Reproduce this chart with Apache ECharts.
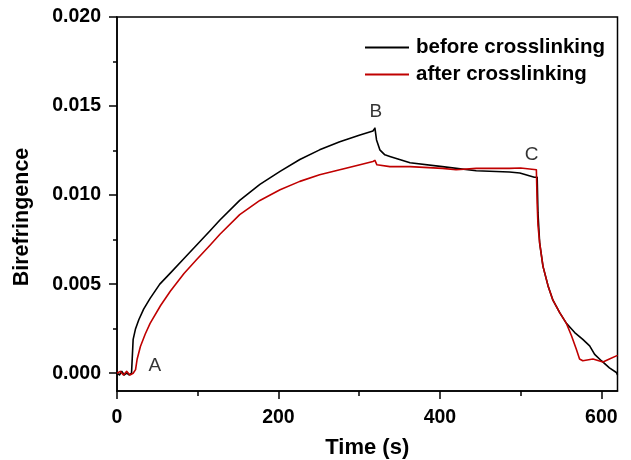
<!DOCTYPE html>
<html>
<head>
<meta charset="utf-8">
<script src="https://cdn.jsdelivr.net/npm/echarts@6/dist/echarts.min.js"></script>
<style>
  html, body { margin: 0; padding: 0; background: #fff; }
  #chart { width: 631px; height: 460px; }
</style>
</head>
<body>
<div id="chart"></div>
<script>
// Birefringence transients before / after crosslinking
const beforeTime = [0, 3, 6, 9, 12, 15, 18, 19.6, 20, 23, 27, 33, 41, 53, 66, 83, 99, 115, 127.5, 152, 177, 202, 226.5, 251, 276, 301, 317, 319.5, 321.5, 325.6, 331.8, 338, 363, 403, 445, 486, 499, 517, 520.5, 521.5, 523.6, 527.7, 534, 540, 548.4, 556.7, 567, 577, 585.5, 591.7, 600, 610, 618.6, 620];
const beforeValue = [0, -0.0001, 0.0001, -0.0001, 0, -0.0001, 0, 0, 0.0019, 0.0025, 0.0030, 0.0036, 0.0042, 0.0050, 0.00562, 0.00644, 0.00721, 0.00798, 0.0086, 0.0097, 0.0106, 0.01133, 0.0120, 0.01254, 0.0130, 0.01338, 0.0136, 0.01376, 0.0131, 0.01254, 0.01226, 0.01217, 0.01182, 0.0116, 0.01137, 0.0113, 0.01124, 0.0110, 0.0110, 0.0090, 0.0073, 0.0060, 0.0049, 0.0041, 0.0034, 0.0028, 0.00228, 0.0019, 0.00153, 0.00106, 0.0007, 0.0003, 0.00004, -0.0001];

const afterTime = [0, 4, 8, 12, 16, 20, 22, 23, 25, 29, 35, 41, 54, 66, 83, 99, 115.5, 127.5, 152, 177, 202, 226.5, 251, 276, 301, 317, 319.5, 322, 338, 363, 403, 420, 445, 486, 500, 519.5, 520.5, 521.5, 523.6, 527.7, 534, 540, 548.4, 556.7, 563, 569, 573, 577, 589.6, 602, 610, 620];
const afterValue = [0, 0.0001, -0.0001, 0.0001, -0.0001, 0, -0.0001, 0.0002, 0.0008, 0.0015, 0.0022, 0.0028, 0.0038, 0.0046, 0.0056, 0.0064, 0.0072, 0.0078, 0.0089, 0.0097, 0.0103, 0.01077, 0.01114, 0.01142, 0.0117, 0.01189, 0.01195, 0.0117, 0.0116, 0.0116, 0.0115, 0.01142, 0.0115, 0.0115, 0.01152, 0.01142, 0.0095, 0.0083, 0.0073, 0.0060, 0.0049, 0.0041, 0.0034, 0.0028, 0.0021, 0.00134, 0.0008, 0.0007, 0.0008, 0.00063, 0.0008, 0.001];

// Point labels A, B, C (time, birefringence)
const markText = ['A', 'B', 'C'];
const markTime = [47, 320.6, 513.7];
const markValue = [0.0004, 0.01468, 0.01225];

const xMajorTicks = [0, 200, 400, 600];
const xMinorTicks = [100, 300, 500];
const yMajorTicks = [0, 0.005, 0.010, 0.015, 0.020];
const yMinorTicks = [0.0025, 0.0075, 0.0125, 0.0175];

const seriesNames = ['before crosslinking', 'after crosslinking'];

const zip = (a, b) => a.map((v, i) => [v, b[i]]);
const FONT = '"Liberation Sans", Arial, Helvetica, sans-serif';
const X_MIN = 0, X_MAX = 620, Y_MIN = -0.001, Y_MAX = 0.020;

const chart = echarts.init(document.getElementById('chart'), null, { renderer: 'canvas' });

const minorAxisCommon = {
  axisLine: { show: false, onZero: false },
  axisLabel: { show: false },
  splitLine: { show: false }
};

chart.setOption({
  animation: false,
  backgroundColor: '#fff',
  grid: {
    left: 117, top: 17, right: 13.5, bottom: 69,
    outerBoundsMode: 'none', containLabel: false,
    show: true, borderColor: '#000', borderWidth: 1.5, backgroundColor: 'transparent'
  },
  legend: {
    data: seriesNames,
    orient: 'vertical',
    left: 365, top: 37, padding: 0,
    icon: 'rect', itemWidth: 44, itemHeight: 2, itemGap: 6,
    textStyle: { fontFamily: FONT, fontWeight: 'bold', fontSize: 20.5, lineHeight: 20, color: '#000', padding: [0, 0, 0, 2] }
  },
  xAxis: [{
    type: 'value', min: X_MIN, max: X_MAX,
    name: 'Time (s)', nameLocation: 'middle', nameGap: 46,
    nameTextStyle: { fontFamily: FONT, fontWeight: 'bold', fontSize: 22, color: '#000' },
    axisLine: { show: true, onZero: false, lineStyle: { color: '#000', width: 1.5 } },
    axisTick: { show: true, length: 8, customValues: xMajorTicks, lineStyle: { color: '#000', width: 1.5 } },
    axisLabel: { customValues: xMajorTicks, margin: 17, fontFamily: FONT, fontWeight: 'bold', fontSize: 19.5, color: '#000' },
    splitLine: { show: false }
  }, Object.assign({
    type: 'value', min: X_MIN, max: X_MAX, position: 'bottom',
    axisTick: { show: true, length: 5, customValues: xMinorTicks, lineStyle: { color: '#000', width: 1.5 } }
  }, minorAxisCommon)],
  yAxis: [{
    type: 'value', min: Y_MIN, max: Y_MAX,
    name: 'Birefringence', nameLocation: 'middle', nameGap: 84, nameRotate: 90,
    nameTextStyle: { fontFamily: FONT, fontWeight: 'bold', fontSize: 21.5, color: '#000', padding: [0, 26, 0, 0] },
    axisLine: { show: true, onZero: false, lineStyle: { color: '#000', width: 1.5 } },
    axisTick: { show: true, length: 8, customValues: yMajorTicks, lineStyle: { color: '#000', width: 1.5 } },
    axisLabel: {
      customValues: yMajorTicks, margin: 16, fontFamily: FONT, fontWeight: 'bold', fontSize: 19.5, color: '#000',
      formatter: v => v.toFixed(3)
    },
    splitLine: { show: false }
  }, Object.assign({
    type: 'value', min: Y_MIN, max: Y_MAX, position: 'left', offset: 0,
    axisTick: { show: true, length: 4, customValues: yMinorTicks, lineStyle: { color: '#000', width: 1.5 } }
  }, minorAxisCommon)],
  series: [{
    name: seriesNames[0], type: 'line', data: zip(beforeTime, beforeValue),
    showSymbol: false, symbol: 'none', smooth: false,
    lineStyle: { color: '#000000', width: 1.6, join: 'round' }, itemStyle: { color: '#000000' }
  }, {
    name: seriesNames[1], type: 'line', data: zip(afterTime, afterValue),
    showSymbol: false, symbol: 'none', smooth: false,
    lineStyle: { color: '#c00000', width: 1.6, join: 'round' }, itemStyle: { color: '#c00000' }
  }, {
    name: 'points', type: 'scatter', silent: true,
    data: markText.map((t, i) => ({ value: [markTime[i], markValue[i]], name: t })),
    symbolSize: 0,
    itemStyle: { color: '#000' },
    label: {
      show: true, position: 'inside', formatter: p => p.name,
      fontFamily: FONT, fontSize: 19, color: '#000',
      textBorderWidth: 0, textBorderColor: 'transparent'
    }
  }]
});
</script>
</body>
</html>
